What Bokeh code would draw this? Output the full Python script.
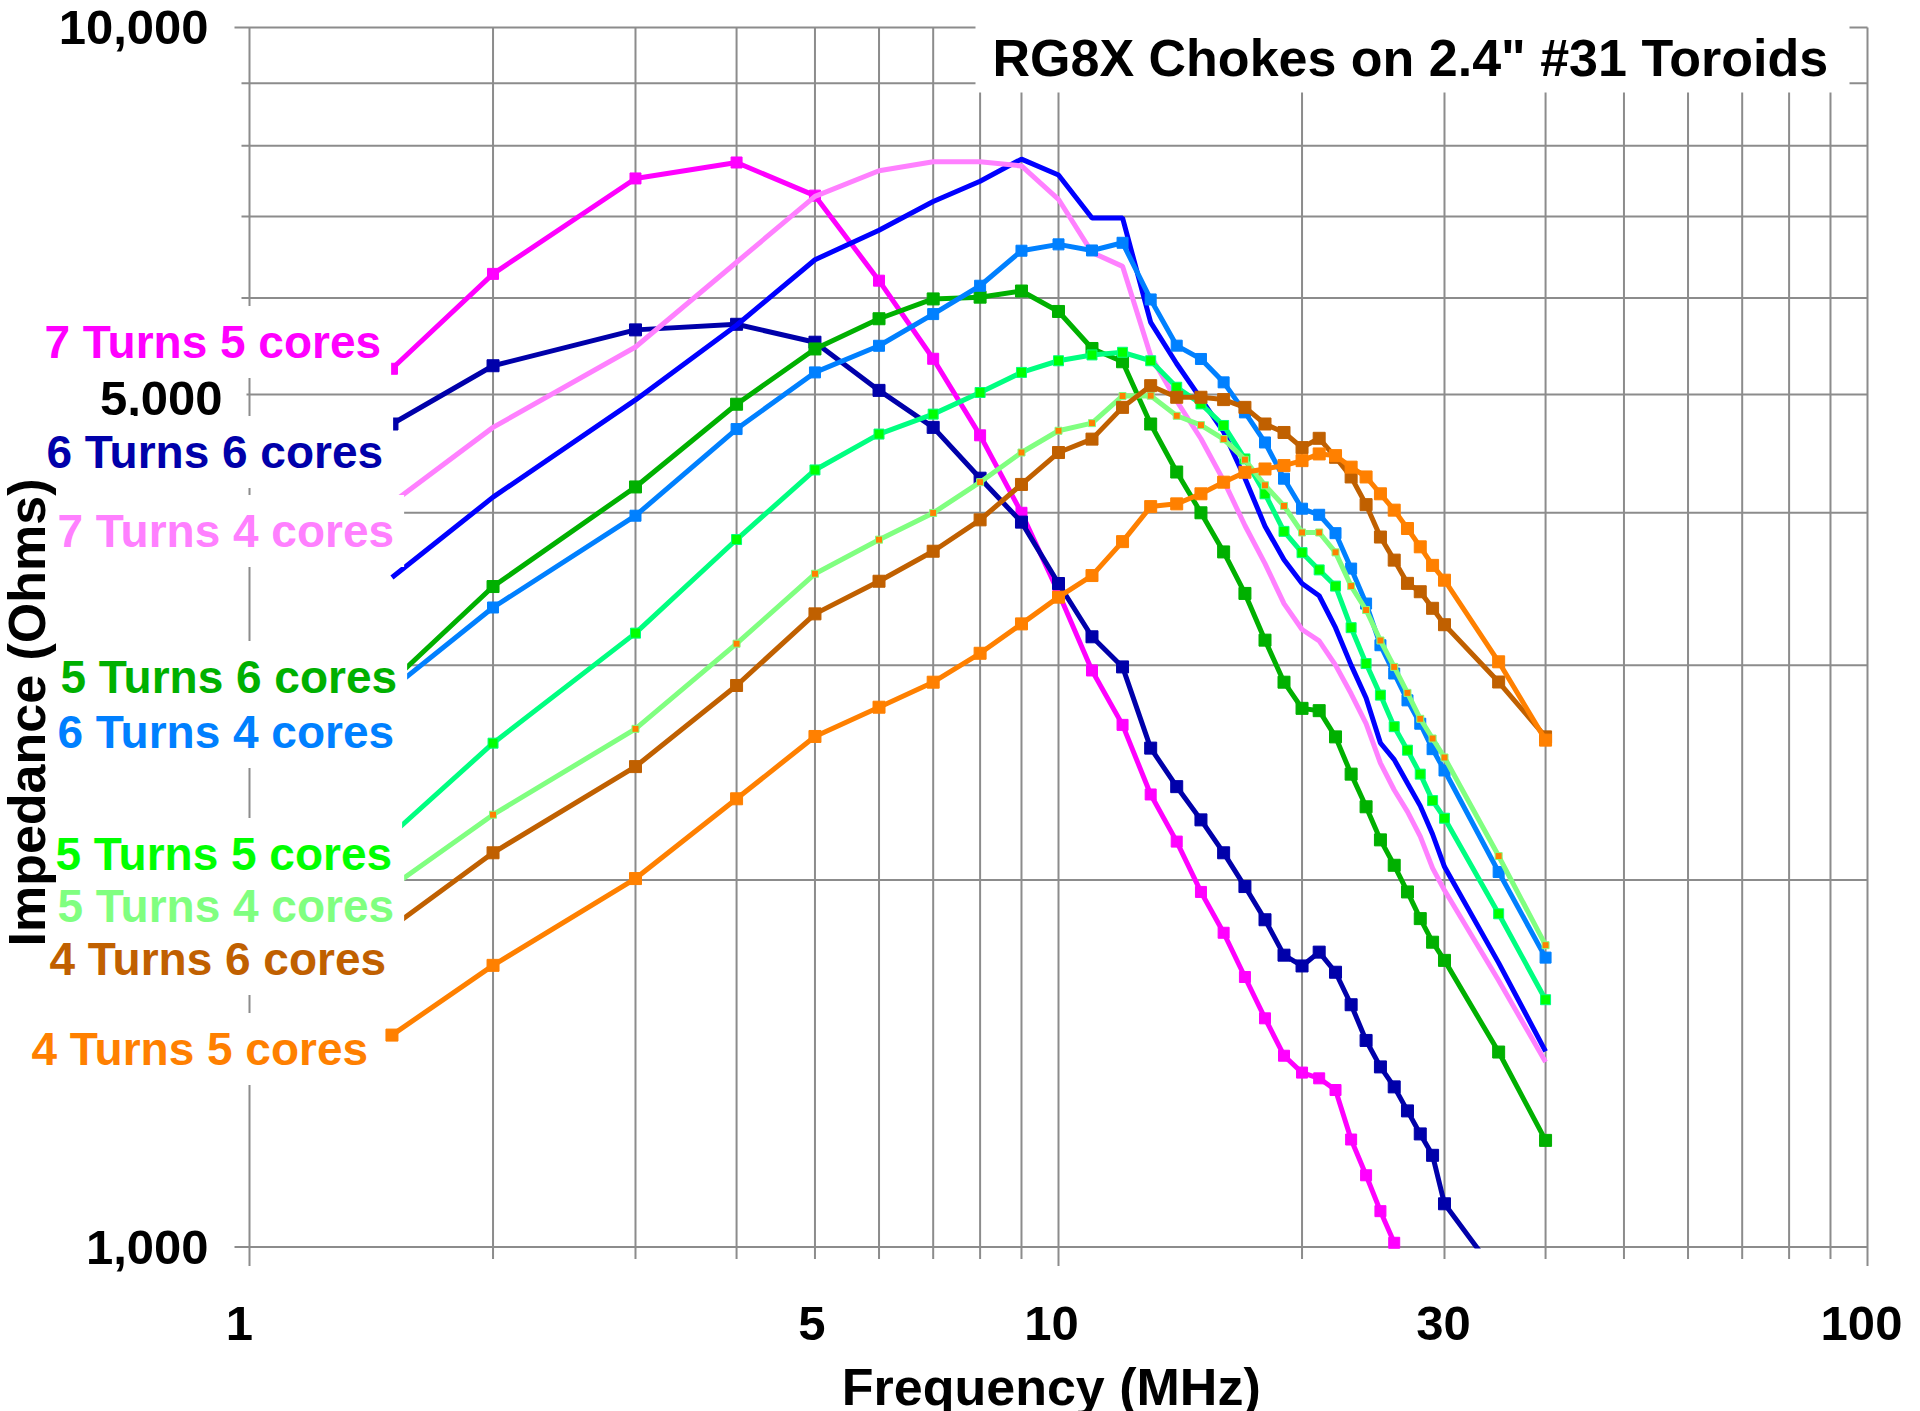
import math
from bokeh.plotting import figure
from bokeh.models import Label, BoxAnnotation, Range1d, ColumnDataSource
from bokeh.embed import file_html
from bokeh.resources import INLINE
from bokeh.core.properties import value

# ---------------- data ----------------
freq_mhz = [1.5, 2, 3, 4, 5, 6, 7, 8, 9, 10, 11, 12, 13, 14, 15, 16, 17, 18, 19, 20,
            21, 22, 23, 24, 25, 26, 27, 28, 29, 30, 35, 40]

z_7t5c = [5250, 6280, 7520, 7750, 7280, 6200, 5350, 4630, 4000, 3440, 2970, 2680, 2350,
          2150, 1955, 1810, 1665, 1540, 1435, 1390, 1375, 1345, 1225, 1145, 1070, 1008]
z_6t6c = [4730, 5280, 5650, 5710, 5520, 5040, 4700, 4270, 3930, 3500, 3165, 2990, 2565,
          2385, 2240, 2105, 1975, 1855, 1735, 1700, 1745, 1680, 1580, 1477, 1405, 1353,
          1293, 1238, 1189, 1085, 945]
z_blue = [3540, 4120, 4950, 5700, 6450, 6820, 7200, 7480, 7800, 7570, 6980, 6980, 5730,
          5300, 4960, 4660, 4270, 3900, 3660, 3500, 3420, 3220, 3000, 2820, 2590, 2510,
          2400, 2300, 2180, 2050, 1710, 1447]
z_7t4c = [4075, 4700, 5470, 6420, 7270, 7630, 7760, 7760, 7700, 7230, 6540, 6370, 5380,
          4940, 4600, 4250, 3905, 3634, 3370, 3209, 3141, 3000, 2842, 2686, 2493, 2370,
          2275, 2171, 2045, 1961, 1654, 1418]
z_5t6c = [2910, 3480, 4200, 4910, 5450, 5770, 5990, 6010, 6080, 5850, 5455, 5320, 4730,
          4320, 4000, 3715, 3435, 3145, 2905, 2765, 2753, 2620, 2442, 2296, 2157, 2056,
          1955, 1859, 1778, 1718, 1445, 1223]
z_6t4c = [2870, 3345, 3978, 4685, 5214, 5483, 5821, 6141, 6561, 6640, 6564, 6660, 5984,
          5484, 5348, 5117, 4835, 4568, 4266, 4031, 3985, 3849, 3600, 3370, 3115, 2953,
          2807, 2686, 2560, 2459, 2030, 1727]
z_5t5c = [2180, 2589, 3187, 3803, 4337, 4641, 4819, 5020, 5214, 5330, 5389, 5416, 5330,
          5070, 4913, 4717, 4428, 4146, 3862, 3710, 3591, 3483, 3220, 3009, 2835, 2671,
          2555, 2442, 2323, 2247, 1876, 1595]
z_5t4c = [1975, 2262, 2660, 3124, 3565, 3802, 3999, 4238, 4482, 4670, 4738, 4987, 4990,
          4804, 4720, 4597, 4422, 4213, 4052, 3854, 3854, 3712, 3483, 3329, 3143, 2990,
          2847, 2711, 2612, 2520, 2092, 1768]
z_4t6c = [1830, 2105, 2477, 2887, 3305, 3515, 3720, 3947, 4220, 4482, 4597, 4881, 5085,
          4975, 4975, 4953, 4881, 4730, 4655, 4524, 4604, 4442, 4280, 4062, 3821, 3658,
          3501, 3446, 3340, 3238, 2906, 2620]
z_4t5c = [1492, 1702, 2005, 2331, 2622, 2771, 2905, 3068, 3243, 3411, 3553, 3788, 4047,
          4068, 4146, 4238, 4318, 4345, 4373, 4414, 4470, 4456, 4360, 4280, 4146, 4020,
          3883, 3751, 3622, 3522, 3019, 2604]

series_labels = ["7 Turns 5 cores", "6 Turns 6 cores", None, "7 Turns 4 cores",
                 "5 Turns 6 cores", "6 Turns 4 cores", "5 Turns 5 cores",
                 "5 Turns 4 cores", "4 Turns 6 cores", "4 Turns 5 cores"]
series_values = [z_7t5c, z_6t6c, z_blue, z_7t4c, z_5t6c, z_6t4c, z_5t5c, z_5t4c, z_4t6c, z_4t5c]

x_grid_values = [1, 2, 3, 4, 5, 6, 7, 8, 9, 10, 20, 30, 40, 50, 60, 70, 80, 90, 100]
x_tick_values = [1, 5, 10, 30, 100]
x_tick_labels = ["1", "5", "10", "30", "100"]
y_grid_values = [1000, 2000, 3000, 4000, 5000, 6000, 7000, 8000, 9000, 10000]
y_tick_values = [1000, 5000, 10000]
y_tick_labels = ["1,000", "5,000", "10,000"]

chart_title = 'RG8X Chokes on 2.4" #31 Toroids'
x_title = "Frequency  (MHz)"
y_title = "Impedance (Ohms)"

# ---------------- styles / layout ----------------
line_colors = ["#FF00FF", "#0000AA", "#0000FF", "#FF80FF", "#00B000", "#0080FF",
               "#00FF80", "#80FF80", "#C06000", "#FF8000"]
marker_fill = ["#FF00FF", "#0000AA", None, None, "#00B000", "#0080FF",
               "#00FF00", "#FF8000", "#C06000", "#FF8000"]
marker_size = [11, 12, 0, 0, 12, 11, 10, 7, 12, 12]
label_colors = ["#FF00FF", "#0000AA", None, "#FF80FF", "#00B000", "#0080FF",
                "#00FF00", "#80FF80", "#C06000", "#FF8000"]
# page-pixel (text left, cap-centre) of each series label
label_pos = [(44, 341.5), (46, 451.5), None, (57, 530.5), (60, 676.5), (57, 731.5),
             (55, 853.5), (57, 905.5), (49, 958.5), (31, 1048.5)]
LABEL_PAD = 10

GRID = "#8c8c8c"
FONT = "Liberation Sans"

W, H = 1920, 1411
# chart area in page pixels (the whole canvas is the frame)
CL, CR, CT, CB = 249.0, 1867.0, 27.0, 1246.5
DX = (CR - CL) / 2.0          # px per decade, x
DY = (CB - CT)                # px per decade, y


def fx(px):
    return 10 ** (2.0 * (px - CL) / (CR - CL))


def fy(py):
    return 10 ** (3.0 + (CB - py) / (CB - CT))


p = figure(width=W, height=H, x_axis_type="log", y_axis_type="log",
           x_range=Range1d(fx(0), fx(W)), y_range=Range1d(fy(H), fy(0)),
           x_axis_location=None, y_axis_location=None,
           output_backend="svg", toolbar_location=None, title=None,
           min_border=0)
p.background_fill_color = "white"
p.border_fill_color = "white"
p.outline_line_color = None
p.grid.visible = False

# ---------------- grid + ticks (drawn on the log scales) ----------------
x_tick_len = [19 if v in (1, 10, 100) else 12 for v in x_grid_values]
p.segment(x0=x_grid_values, y0=[10000] * len(x_grid_values),
          x1=x_grid_values, y1=[1000 * 10 ** (-L / DY) for L in x_tick_len],
          line_color=GRID, line_width=2)
y_tick_len = [15 if v in (1000, 10000) else (3 if v == 5000 else 8) for v in y_grid_values]
p.segment(x0=[10 ** (-L / DX) for L in y_tick_len], y0=y_grid_values,
          x1=[100] * len(y_grid_values), y1=y_grid_values,
          line_color=GRID, line_width=2)

# ---------------- series ----------------
for vals, lc, mf, ms in zip(series_values, line_colors, marker_fill, marker_size):
    xs = freq_mhz[:len(vals)]
    p.line(xs, vals, line_color=lc, line_width=5)
    if mf is not None:
        p.scatter(xs, vals, marker="square", size=ms, fill_color=mf,
                  line_color=lc, line_width=1)

# the chart area ends at 1,000 ohms: hide what runs below it (between the 30/40 MHz ticks)
p.quad(left=[31], right=[38], top=[fy(CB + 1.5)], bottom=[fy(CB + 48)],
       fill_color="white", line_color=None)

# ---------------- tick labels ----------------
x_lab_dx = [-10, -3, -7, -1, -6]
xsrc = ColumnDataSource(dict(x=x_tick_values, y=[fy(1322.5)] * len(x_tick_values),
                             t=x_tick_labels, dx=x_lab_dx))
p.text(x="x", y="y", text="t", x_offset="dx", source=xsrc, text_font=value(FONT),
       text_font_style="bold", text_font_size=value("49px"), text_color="black",
       text_align="center", text_baseline="middle")
y_lab_right = [208, 222, 208]
y_lab_dy = [0, 4, 0]
ysrc = ColumnDataSource(dict(x=[fx(r) for r in y_lab_right], y=y_tick_values,
                             t=y_tick_labels, dy=y_lab_dy))
p.text(x="x", y="y", text="t", y_offset="dy", source=ysrc, text_font=value(FONT),
       text_font_style="bold", text_font_size=value("49px"), text_color="black",
       text_align="right", text_baseline="middle")


def make_label(**kw):
    try:
        return Label(padding=LABEL_PAD, **kw)
    except Exception:
        return Label(**kw)


for txt, col, pos in zip(series_labels, label_colors, label_pos):
    if txt is None:
        continue
    p.add_layout(make_label(x=fx(pos[0] - LABEL_PAD), y=fy(pos[1]), text=txt,
                            text_align="left", text_baseline="middle", text_font=FONT,
                            text_font_style="bold", text_font_size="46px",
                            text_color=col, background_fill_color="white",
                            background_fill_alpha=1.0))

# title with white box behind it
p.add_layout(BoxAnnotation(left=fx(975), right=fx(1849), top=fy(0), bottom=fy(92),
                           fill_color="white", fill_alpha=1.0, line_color=None))
p.add_layout(Label(x=fx(992), y=fy(57.5), text=chart_title, text_align="left",
                   text_baseline="middle", text_font=FONT,
                   text_font_style="bold", text_font_size="52px", text_color="black"))

# axis titles
p.add_layout(Label(x=fx(1058), y=fy(1386), text=x_title, text_align="center",
                   text_baseline="middle", text_font=FONT,
                   text_font_style="bold", text_font_size="52px", text_color="black"))
p.add_layout(Label(x=fx(26.5), y=fy(712), text=y_title, text_align="center",
                   text_baseline="middle", angle=math.pi / 2, text_font=FONT,
                   text_font_style="bold", text_font_size="52px", text_color="black"))

open("out.html", "w").write(file_html(p, INLINE, title="RG8X Chokes"))
